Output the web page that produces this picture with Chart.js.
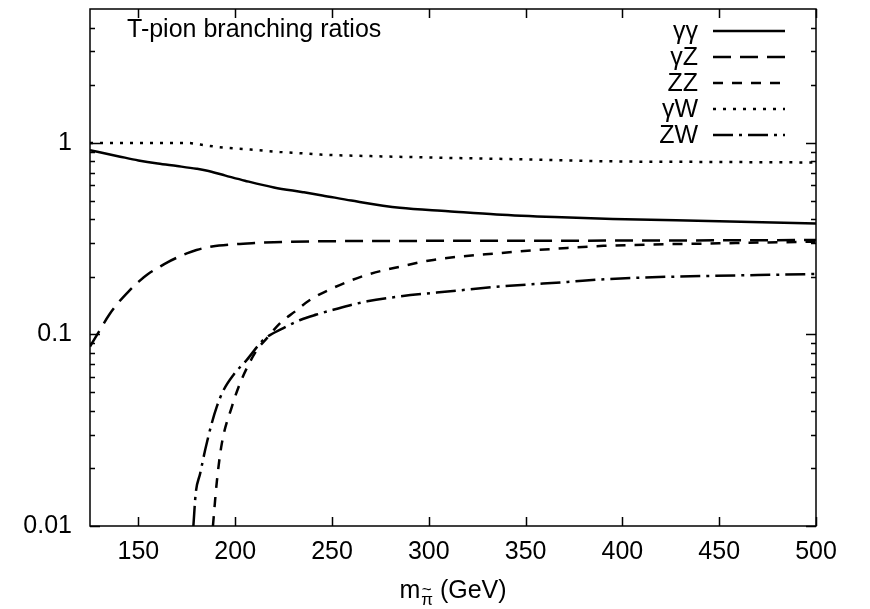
<!DOCTYPE html>
<html>
<head>
<meta charset="utf-8">
<script src="https://cdn.jsdelivr.net/npm/chart.js@4/dist/chart.umd.min.js"></script>
<style>
  body { margin: 0; background: #fff; }
  #wrap { width: 870px; height: 609px; }
</style>
</head>
<body>
<div id="wrap"><canvas id="brChart" width="870" height="609"></canvas></div>
<script>
// branching ratios of the techni-pion vs. its mass (GeV)
const labels = ['γγ', 'γZ', 'ZZ', 'γW', 'ZW'];

const ggMass = [125, 140, 150, 160, 170, 180, 185, 195, 205, 220, 235, 245, 260, 285, 310, 335, 365, 395, 450, 500];
const ggBR   = [0.915, 0.85, 0.81, 0.78, 0.757, 0.733, 0.718, 0.675, 0.635, 0.585, 0.553, 0.532, 0.5, 0.458, 0.44, 0.423, 0.41, 0.401, 0.39, 0.379];

const gzMass = [125, 130, 135, 140, 145, 150, 155, 160, 165, 170, 175, 180, 188, 200, 210, 220, 240, 300, 400, 500];
const gzBR   = [0.0865, 0.105, 0.127, 0.148, 0.168, 0.188, 0.207, 0.222, 0.238, 0.252, 0.265, 0.276, 0.288, 0.296, 0.3, 0.303, 0.306, 0.308, 0.309, 0.311];

const zzMass = [188.5, 190.5, 193.1, 198.3, 201.7, 206, 211.2, 216.4, 223.2, 231, 238, 250.6, 268.2, 285.3, 302.3, 337, 371.6, 390.2, 450, 500];
const zzBR   = [0.01, 0.017, 0.027, 0.042, 0.053, 0.0667, 0.083, 0.0957, 0.1146, 0.132, 0.15, 0.175, 0.205, 0.226, 0.245, 0.266, 0.283, 0.29, 0.299, 0.305];

const gwMass = [125, 150, 175, 182, 190, 200, 208, 223, 234, 244, 270, 311, 350, 394, 450, 500];
const gwBR   = [1.0, 1.0, 1.0, 0.98, 0.955, 0.935, 0.923, 0.897, 0.883, 0.869, 0.853, 0.835, 0.82, 0.801, 0.795, 0.79];

const zwMass = [178.4, 179.6, 181.9, 184.5, 187.9, 190.5, 193.9, 199.1, 206, 214.6, 224.9, 233.6, 242, 250.6, 268.2, 285.3, 311.1, 337, 371.6, 393.8, 500];
const zwBR   = [0.01, 0.0148, 0.0188, 0.025, 0.0344, 0.042, 0.051, 0.0615, 0.0737, 0.0937, 0.108, 0.119, 0.127, 0.1345, 0.149, 0.158, 0.168, 0.178, 0.188, 0.195, 0.207];

const xTicks = [150, 200, 250, 300, 350, 400, 450, 500];
const yTicks = [0.01, 0.1, 1];
const yMinor = [0.02, 0.03, 0.04, 0.05, 0.06, 0.07, 0.08, 0.09,
                0.2, 0.3, 0.4, 0.5, 0.6, 0.7, 0.8, 0.9, 2, 3, 4];

const FONT = "'Liberation Sans', Arial, Helvetica, sans-serif";

function pts(xs, ys) {
    return xs.map((x, i) => ({ x: x, y: ys[i] }));
}

function series(label, xs, ys, dash) {
    return {
        label: label,
        data: pts(xs, ys),
        borderColor: '#000',
        borderWidth: 2.5,
        borderDash: dash,
        pointRadius: 0,
        fill: false,
        cubicInterpolationMode: 'monotone'
    };
}

// frame, inward ticks, in-plot title, legend and the x-axis caption
const decorations = {
    id: 'decorations',
    afterDraw(chart) {
        const ctx = chart.ctx;
        const a = chart.chartArea;
        const xs = chart.scales.x;
        const ys = chart.scales.y;
        ctx.save();
        ctx.strokeStyle = '#000';
        ctx.fillStyle = '#000';
        ctx.lineWidth = 1.5;
        ctx.setLineDash([]);
        ctx.strokeRect(a.left, a.top, a.right - a.left, a.bottom - a.top);

        ctx.beginPath();
        xTicks.forEach(v => {
            const px = Math.round(xs.getPixelForValue(v)) + 0.5;
            ctx.moveTo(px, a.bottom); ctx.lineTo(px, a.bottom - 9);
            ctx.moveTo(px, a.top); ctx.lineTo(px, a.top + 9);
        });
        yTicks.forEach(v => {
            const py = Math.round(ys.getPixelForValue(v)) + 0.5;
            ctx.moveTo(a.left, py); ctx.lineTo(a.left + 10, py);
            ctx.moveTo(a.right, py); ctx.lineTo(a.right - 10, py);
        });
        yMinor.forEach(v => {
            const py = Math.round(ys.getPixelForValue(v)) + 0.5;
            ctx.moveTo(a.left, py); ctx.lineTo(a.left + 5, py);
            ctx.moveTo(a.right, py); ctx.lineTo(a.right - 5, py);
        });
        ctx.stroke();

        ctx.font = '25px ' + FONT;
        ctx.textAlign = 'left';
        ctx.textBaseline = 'alphabetic';
        ctx.fillText('T-pion branching ratios', 127, 37);

        // legend: label right-aligned, line sample to its right
        chart.data.datasets.forEach((ds, i) => {
            const y = 31 + i * 26;
            ctx.textAlign = 'right';
            ctx.textBaseline = 'middle';
            ctx.fillText(ds.label, 698, y + 1);
            ctx.beginPath();
            ctx.lineWidth = ds.borderWidth;
            ctx.setLineDash(ds.borderDash);
            ctx.moveTo(713, y);
            ctx.lineTo(785, y);
            ctx.stroke();
        });
        ctx.setLineDash([]);

        // m with a tilde-pi subscript, then the unit
        const base = 598;
        const big = '25px ' + FONT;
        const small = '17px ' + FONT;
        ctx.textBaseline = 'alphabetic';
        ctx.textAlign = 'left';
        ctx.font = big;
        const wM = ctx.measureText('m').width;
        const wRest = ctx.measureText(' (GeV)').width;
        ctx.font = small;
        const wPi = ctx.measureText('π').width;
        const total = wM + 1 + wPi + wRest;
        let x = (a.left + a.right) / 2 - total / 2;
        ctx.font = big;
        ctx.fillText('m', x, base);
        x += wM + 1;
        ctx.font = small;
        ctx.fillText('π', x, base + 7);
        ctx.fillText('~', x + 0.5, base - 3);
        x += wPi;
        ctx.font = big;
        ctx.fillText(' (GeV)', x, base);
        ctx.restore();
    }
};

new Chart(document.getElementById('brChart'), {
    type: 'line',
    data: {
        datasets: [
            series(labels[0], ggMass, ggBR, []),
            series(labels[1], gzMass, gzBR, [18, 9]),
            series(labels[2], zzMass, zzBR, [10, 9]),
            series(labels[3], gwMass, gwBR, [3, 7]),
            series(labels[4], zwMass, zwBR, [20, 6, 3, 6])
        ]
    },
    options: {
        responsive: false,
        animation: false,
        layout: { padding: { left: 0, right: 54, top: 9, bottom: 0 } },
        plugins: {
            legend: { display: false },
            tooltip: { enabled: false }
        },
        scales: {
            x: {
                type: 'linear',
                min: 125,
                max: 500,
                grid: { display: false, drawTicks: false },
                border: { display: false },
                afterBuildTicks: scale => { scale.ticks = xTicks.map(v => ({ value: v })); },
                afterFit: scale => {
                    scale.height = 83;
                    scale.paddingLeft = 0;
                    scale.paddingRight = 0;
                },
                ticks: {
                    color: '#000',
                    padding: 11,
                    maxRotation: 0,
                    font: { family: FONT, size: 25 },
                    callback: v => String(v)
                }
            },
            y: {
                type: 'logarithmic',
                min: 0.01,
                max: 5,
                grid: { display: false, drawTicks: false },
                border: { display: false },
                afterBuildTicks: scale => { scale.ticks = yTicks.map(v => ({ value: v })); },
                afterFit: scale => {
                    scale.width = 90;
                    scale.paddingTop = 0;
                    scale.paddingBottom = 0;
                },
                ticks: {
                    color: '#000',
                    padding: 18,
                    font: { family: FONT, size: 25 },
                    callback: v => String(v)
                }
            }
        }
    },
    plugins: [decorations]
});
</script>
</body>
</html>
